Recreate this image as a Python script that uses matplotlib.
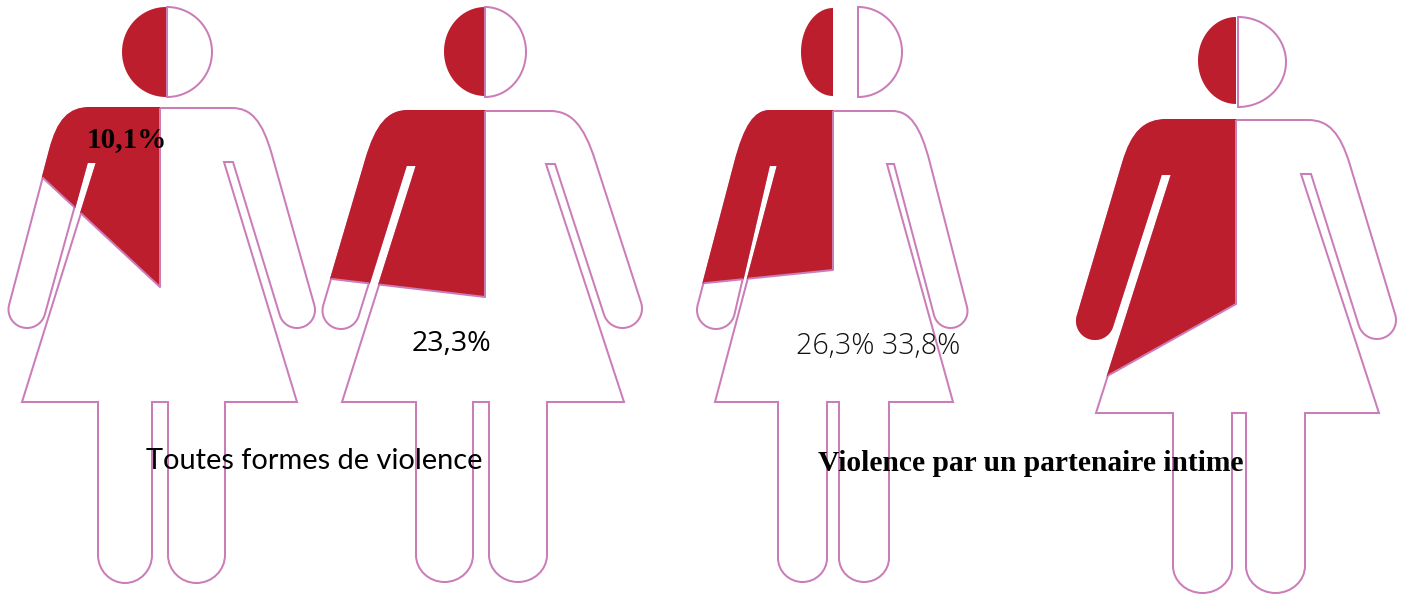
import numpy as np
import matplotlib
matplotlib.use('Agg')
import matplotlib.pyplot as plt
from matplotlib.path import Path
from matplotlib.patches import PathPatch, Polygon

# the four values and the two group captions
percent_labels = ['10,1%', '23,3%', '26,3% 33,8%']
captions = ['Toutes formes de violence', 'Violence par un partenaire intime']

RED = '#BC1E2D'
PINK = '#CB7DB9'
LW = 1.45

# where the red part stops, per figure: (x, y) on the arm side and y on the centre line
cut_left = [(43, 178), (332, 279), (706, 283), (1109, 375)]
cut_center = [287, 297, 270, 304]

# head: red half (x left, x split, top, bottom), white half (x split, x right, top, bottom)
head_red = [(122, 166, 7, 97), (444, 485, 7, 96), (801, 833, 8, 96), (1198, 1236, 17, 104)]
head_white = [(167, 212, 7, 97), (485, 526, 7, 97), (858, 902, 7, 97), (1238, 1286, 17, 107)]

# body outlines
# sl/sr shoulder start on the top line, sle/sre shoulder end on the arm, hand_* = (cx, cy, r)
bodies = [
    dict(cx=160, top=108, sl=90, sle=(50, 150), hand_l=(27, 309.5, 18.5),
         slit_l=(87, 97, 162), hem_l=22, hem_y=402, legs=(98, 152, 168, 225), bottom=583, arc=555,
         hem_r=297, slit_r=(224, 233, 162), hand_r=(297, 310, 18), sre=(272, 155), sr=232),
    dict(cx=485, top=111, sl=408, sle=(366, 160), hand_l=(341, 310.5, 18.5),
         slit_l=(406, 417, 165), hem_l=342, hem_y=402, legs=(416, 473, 489, 547), bottom=582, arc=555,
         hem_r=624, slit_r=(546, 555, 164), hand_r=(622.5, 308.5, 19.5), sre=(595, 160), sr=550),
    dict(cx=833, top=111, sl=770, sle=(735, 163), hand_l=(716, 310, 19),
         slit_l=(769, 778, 165), hem_l=715, hem_y=402, legs=(778, 827, 839, 889), bottom=582, arc=558,
         hem_r=953, slit_r=(887, 894, 164), hand_r=(950.5, 311, 17), sre=(930, 163), sr=892),
    dict(cx=1236, top=120, sl=1167, sle=(1123, 163), hand_l=(1095, 321, 18),
         slit_l=(1161, 1172, 174), hem_l=1096, hem_y=413, legs=(1173, 1232, 1246, 1305), bottom=593, arc=566,
         hem_r=1379, slit_r=(1301, 1311, 174), hand_r=(1377, 320, 19), sre=(1350, 165), sr=1308),
]


def leg_end(verts, codes, x0, x1, arc, low):
    k = 0.55
    mid = (x0 + x1) / 2
    verts += [(x0, arc + (low - arc) * k), (mid - (mid - x0) * k, low), (mid, low),
              (mid + (x1 - mid) * k, low), (x1, arc + (low - arc) * k), (x1, arc)]
    codes += [Path.CURVE4] * 6


def hand_arc(hand, shoulder, side):
    # half circle at the end of an arm, the outer arm line is tangent to it
    # side is +1 for the left arm, -1 for the right one
    cx, cy, r = hand
    dist = np.hypot(cx - shoulder[0], cy - shoulder[1])
    phi = np.arctan2(cy - shoulder[1], cx - shoulder[0]) + side * np.arcsin(r / dist)
    t = np.linspace(phi + np.pi / 2, phi - np.pi / 2, 30)
    return list(zip(cx + r * np.cos(t), cy + r * np.sin(t)))


def shoulder_ctrl(x_top, top, end, arm_pt):
    # control points for a round shoulder, tangent to the top line and to the arm
    k = 0.72
    slope = (arm_pt[0] - end[0]) / (arm_pt[1] - end[1])
    corner_x = end[0] + slope * (top - end[1])
    c1 = (x_top + (corner_x - x_top) * k, top)
    c2 = (end[0] + (corner_x - end[0]) * k, end[1] + (top - end[1]) * k)
    return c1, c2


def body_path(b):
    top, hem = b['top'], b['hem_y']
    verts = [(b['cx'], top), (b['sl'], top)]
    codes = [Path.MOVETO, Path.LINETO]
    # left shoulder
    arc = hand_arc(b['hand_l'], b['sle'], 1)
    c1, c2 = shoulder_ctrl(b['sl'], top, b['sle'], arc[0])
    verts += [c1, c2, b['sle']]
    codes += [Path.CURVE4] * 3
    # left arm and hand
    verts += arc
    codes += [Path.LINETO] * len(arc)
    x0, x1, ys = b['slit_l']
    verts += [(x0, ys), (x1, ys), (b['hem_l'], hem)]
    codes += [Path.LINETO] * 3
    # legs
    l0, l1, l2, l3 = b['legs']
    verts += [(l0, hem), (l0, b['arc'])]
    codes += [Path.LINETO] * 2
    leg_end(verts, codes, l0, l1, b['arc'], b['bottom'])
    verts += [(l1, hem), (l2, hem), (l2, b['arc'])]
    codes += [Path.LINETO] * 3
    leg_end(verts, codes, l2, l3, b['arc'], b['bottom'])
    verts += [(l3, hem), (b['hem_r'], hem)]
    codes += [Path.LINETO] * 2
    # right side going back up
    x0, x1, ys = b['slit_r']
    verts += [(x0, ys), (x1, ys)]
    codes += [Path.LINETO] * 2
    arc = hand_arc(b['hand_r'], b['sre'], -1)
    verts += arc
    codes += [Path.LINETO] * len(arc)
    verts.append(b['sre'])
    codes.append(Path.LINETO)
    c1, c2 = shoulder_ctrl(b['sr'], top, b['sre'], arc[-1])
    verts += [c2, c1, (b['sr'], top), (b['cx'], top)]
    codes += [Path.CURVE4] * 3 + [Path.LINETO]
    return Path(verts, codes)


def half_head(x_split, x_far, top, bottom):
    t = np.linspace(-np.pi / 2, np.pi / 2, 60)
    cy = (top + bottom) / 2
    xs = x_split + (x_far - x_split) * np.cos(t)
    ys = cy + (bottom - top) / 2 * np.sin(t)
    return np.column_stack([xs, ys])


fig = plt.figure(figsize=(14.06, 5.94), dpi=100)
ax = fig.add_axes([0, 0, 1, 1])
ax.set_xlim(0, 1406)
ax.set_ylim(594, 0)
ax.axis('off')

for i, b in enumerate(bodies):
    path = body_path(b)
    outline = PathPatch(path, facecolor='white', edgecolor=PINK, lw=LW, zorder=1)
    ax.add_patch(outline)

    # red part = the body clipped by a polygon above the cut line
    xl, yl = cut_left[i]
    yc = cut_center[i]
    slope = (yc - yl) / (b['cx'] - xl)
    far_x = xl - 80
    region = Polygon([(far_x, 0), (b['cx'], 0), (b['cx'], yc), (far_x, yl - slope * 80)],
                     closed=True, facecolor='none', edgecolor='none', zorder=0)
    ax.add_patch(region)
    red = PathPatch(path, facecolor=RED, edgecolor=RED, lw=LW, zorder=2)
    ax.add_patch(red)
    red.set_clip_path(region)

    # centre line and cut line
    line, = ax.plot([b['cx'], b['cx'], far_x], [b['top'], yc, yl - slope * 80], color=PINK, lw=LW, zorder=3)
    line.set_clip_path(outline)

    # head
    x0, xs, t0, b0 = head_red[i]
    ax.add_patch(Polygon(half_head(xs, x0, t0, b0), closed=True, facecolor=RED, edgecolor='none', zorder=2))
    xs, x1, t1, b1 = head_white[i]
    ax.add_patch(Polygon(half_head(xs, x1, t1, b1), closed=True, facecolor='white', edgecolor=PINK, lw=LW, zorder=2))

ax.text(87, 147, percent_labels[0], family='Liberation Serif', weight='bold', fontsize=21, color='black', zorder=5)
ax.text(412, 351, percent_labels[1], family='Open Sans', fontsize=20.5, color='black', zorder=5)
ax.text(796, 354, percent_labels[2], family='Open Sans', weight='light', fontsize=20.6, color='#111111', zorder=5)
ax.text(146, 469, captions[0], family='Lato', fontsize=20.9, color='black', zorder=5)
ax.text(818, 471, captions[1], family='Liberation Serif', weight='bold', fontsize=21.25, color='black', zorder=5)

fig.savefig('out.png', dpi=100, facecolor='white')
